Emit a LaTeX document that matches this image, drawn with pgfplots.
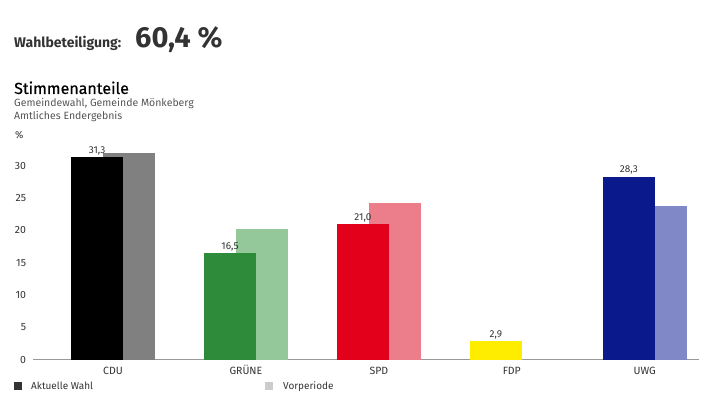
\documentclass[border=0pt]{standalone}
\usepackage{pgfplots}
\pgfplotsset{compat=1.18}
\usepackage{fontspec}
\setmainfont{Fira Sans}
\newfontfamily\firamed[UprightFeatures={FakeBold=0.6}]{Fira Sans}
\definecolor{txt}{HTML}{333333}
\definecolor{sub}{HTML}{555555}
\begin{document}
\begin{tikzpicture}[x=1pt,y=1pt]
\path[use as bounding box] (0,0) rectangle (704,396);
\node[anchor=base west,inner sep=0,font=\fontsize{14}{16}\selectfont\bfseries,text=txt] at (14,348) {Wahlbeteiligung:};
\node[anchor=base west,inner sep=0,font=\fontsize{29}{32}\selectfont\bfseries,text=txt] at (135,348) {60,4 \%};
\node[anchor=base west,inner sep=0,font=\firamed\fontsize{16}{18}\selectfont,text=black] at (14,302) {Stimmenanteile};
\node[anchor=base west,inner sep=0,font=\fontsize{10.5}{12}\selectfont,text=sub] at (14,289) {Gemeindewahl, Gemeinde Mönkeberg};
\node[anchor=base west,inner sep=0,font=\fontsize{10.5}{12}\selectfont,text=sub] at (14,276) {Amtliches Endergebnis};
\node[anchor=base west,inner sep=0,font=\fontsize{10}{12}\selectfont,text=txt] at (15,257) {\%};
\fill[black!80] (14,6) rectangle (22,14);
\node[anchor=base west,inner sep=0,font=\fontsize{10}{12}\selectfont,text=txt] at (31,6) {Aktuelle Wahl};
\fill[black!20] (265,6) rectangle (273,14);
\node[anchor=base west,inner sep=0,font=\fontsize{10}{12}\selectfont,text=txt] at (283,6) {Vorperiode};
\begin{axis}[
  at={(25,56)}, anchor=south west,
  scale only axis, width=666pt, height=213.5pt,
  xmin=-0.6, xmax=4.41, ymin=0, ymax=33,
  axis x line*=bottom, axis y line=none,
  x axis line style={black!40, line width=0.8pt},
  xtick={0,1,2,3,4},
  xticklabels={CDU,GRÜNE,SPD,FDP,UWG},
  major tick length=0pt,
  ytick={0,5,10,15,20,25,30},
  ymajorgrids, grid style={black!30, densely dotted},
  tick label style={font=\fontsize{10.5}{12}\selectfont, text=txt},
  xticklabel style={text height=8pt, text depth=2pt, yshift=-3pt},
  /pgf/number format/assume math mode=true,
  clip=false,
]
\pgfplotsinvokeforeach{0,5,10,15,20,25,30}{
  \node[anchor=east,font=\fontsize{10.5}{12}\selectfont,text=txt,inner sep=0] at (axis cs:-0.6,#1) [xshift=-7pt] {#1};
}
% previous period
\addplot[ybar, bar width=0.391, bar shift=0pt, fill=black!50, draw=none] coordinates {(0.12,32.0)};
\addplot[ybar, bar width=0.391, bar shift=0pt, fill={rgb,255:red,148;green,199;blue,154}, draw=none] coordinates {(1.12,20.2)};
\addplot[ybar, bar width=0.391, bar shift=0pt, fill={rgb,255:red,236;green,125;blue,138}, draw=none] coordinates {(2.12,24.3)};
\addplot[ybar, bar width=0.391, bar shift=0pt, fill={rgb,255:red,128;green,136;blue,200}, draw=none] coordinates {(4.12,23.7)};
% current
\pgfplotsset{curr/.style={ybar, bar width=0.391, bar shift=0pt, draw=none,
  nodes near coords, every node near coord/.append style={font=\fontsize{10}{12}\selectfont, text=txt, inner sep=2pt},
  nodes near coords style={/pgf/number format/.cd, fixed, fixed zerofill, precision=1, use comma, assume math mode=true}}}
\addplot[curr, fill=black] coordinates {(-0.12,31.3)};
\addplot[curr, fill={rgb,255:red,46;green,139;blue,58}] coordinates {(0.88,16.5)};
\addplot[curr, fill={rgb,255:red,226;green,0;blue,26}] coordinates {(1.88,21.0)};
\addplot[curr, fill={rgb,255:red,255;green,237;blue,0}] coordinates {(2.88,2.9)};
\addplot[curr, fill={rgb,255:red,10;green,26;blue,140}] coordinates {(3.88,28.3)};
\end{axis}
\end{tikzpicture}
\end{document}
